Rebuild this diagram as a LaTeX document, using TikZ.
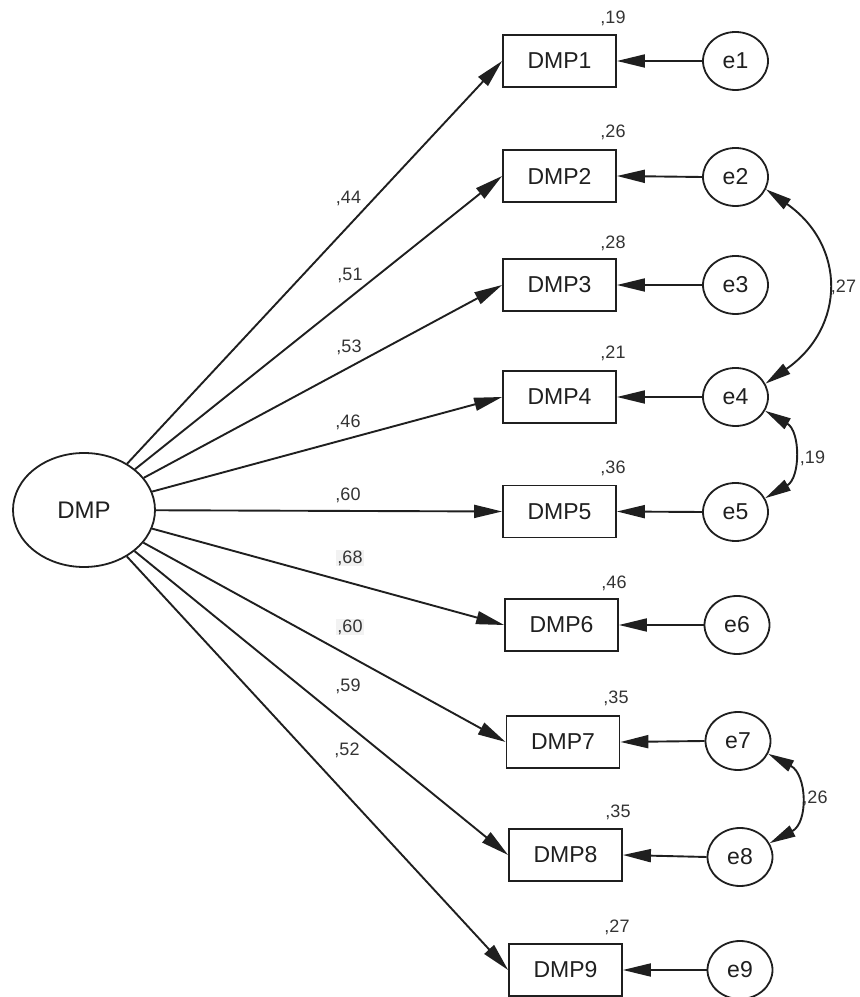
\documentclass[tikz,border=0pt]{standalone}
\usepackage{fontspec}
\setmainfont{Liberation Sans}
\usetikzlibrary{arrows.meta,shapes.geometric}
\begin{document}
\begin{tikzpicture}[x=1pt,y=1pt,
  obs/.style={draw=black!88,line width=1.8pt,minimum width=113pt,minimum height=52pt,inner sep=0pt,text=black!88,font=\fontsize{23}{27}\selectfont},
  err/.style={draw=black!88,ellipse,line width=1.8pt,minimum width=65pt,minimum height=58pt,inner sep=0pt,text=black!88,font=\fontsize{23}{27}\selectfont},
  lat/.style={draw=black!88,ellipse,line width=1.8pt,minimum width=142pt,minimum height=114pt,inner sep=0pt,text=black!88,font=\fontsize{24}{28}\selectfont},
  lbl/.style={text=black!80,inner sep=1pt,font=\fontsize{18}{21}\selectfont},
  hl/.style={fill=black!5},
  arr/.style={draw=black!88,line width=1.9pt,-{Triangle[length=28pt,width=13pt]}},
  cov/.style={draw=black!88,line width=1.9pt,{Triangle[length=26pt,width=12pt]}-{Triangle[length=26pt,width=12pt]}}
]
\useasboundingbox (0,0) rectangle (860,997);

% latent
\node[lat] (DMP) at (84,487) {DMP};

% observed
\node[obs] (b1) at (559.5,936) {DMP1};
\node[obs] (b2) at (559.5,821) {DMP2};
\node[obs] (b3) at (559.5,712) {DMP3};
\node[obs] (b4) at (559.5,600) {DMP4};
\node[obs] (b5) at (559.5,485.5) {DMP5};
\node[obs] (b6) at (561.5,372) {DMP6};
\node[obs] (b7) at (563,255) {DMP7};
\node[obs] (b8) at (565.5,142) {DMP8};
\node[obs] (b9) at (565.5,27) {DMP9};

% errors
\node[err] (e1) at (735.5,936) {e1};
\node[err] (e2) at (735.5,820) {e2};
\node[err] (e3) at (735.5,712) {e3};
\node[err] (e4) at (735.5,600) {e4};
\node[err] (e5) at (735.5,485) {e5};
\node[err] (e6) at (737,372) {e6};
\node[err] (e7) at (738,256) {e7};
\node[err] (e8) at (740,140) {e8};
\node[err] (e9) at (740,27) {e9};

% loadings
\foreach \i in {1,...,9} {
  \draw[arr] (DMP) -- (b\i.west);
  \draw[arr] (e\i.west) -- (b\i.east);
}

% covariances
\draw[cov] (e2.-22) to[out=-35,in=35,looseness=1.29] (e4.24);
\draw[cov] (e4.-25) to[out=-30,in=30,looseness=1.2] (e5.25);
\draw[cov] (e7.-23) to[out=-28,in=28,looseness=1.26] (e8.25);

% path labels
\node[lbl] (l1) at (348.5,799) {,44};
\node[lbl] (l2) at (350,722) {,51};
\node[lbl] (l3) at (349,650) {,53};
\node[lbl] (l4) at (348,575) {,46};
\node[lbl] (l5) at (348,502) {,60};
\node[lbl,hl] (l6) at (350,439) {,68};
\node[lbl,hl] (l7) at (350,370) {,60};
\node[lbl] (l8) at (348,311) {,59};
\node[lbl] (l9) at (347,247) {,52};

% squared multiple correlations
\node[lbl] (r1) at (613,979) {,19};
\node[lbl] (r2) at (613,865) {,26};
\node[lbl] (r3) at (613,754) {,28};
\node[lbl] (r4) at (613,644) {,21};
\node[lbl] (r5) at (613,529) {,36};
\node[lbl] (r6) at (614,414) {,46};
\node[lbl] (r7) at (616,299) {,35};
\node[lbl] (r8) at (618,185) {,35};
\node[lbl] (r9) at (617,70) {,27};

% covariance labels
\node[lbl] (c1) at (843.5,710) {,27};
\node[lbl] (c2) at (812.5,539) {,19};
\node[lbl] (c3) at (815,199) {,26};
\end{tikzpicture}
\end{document}
